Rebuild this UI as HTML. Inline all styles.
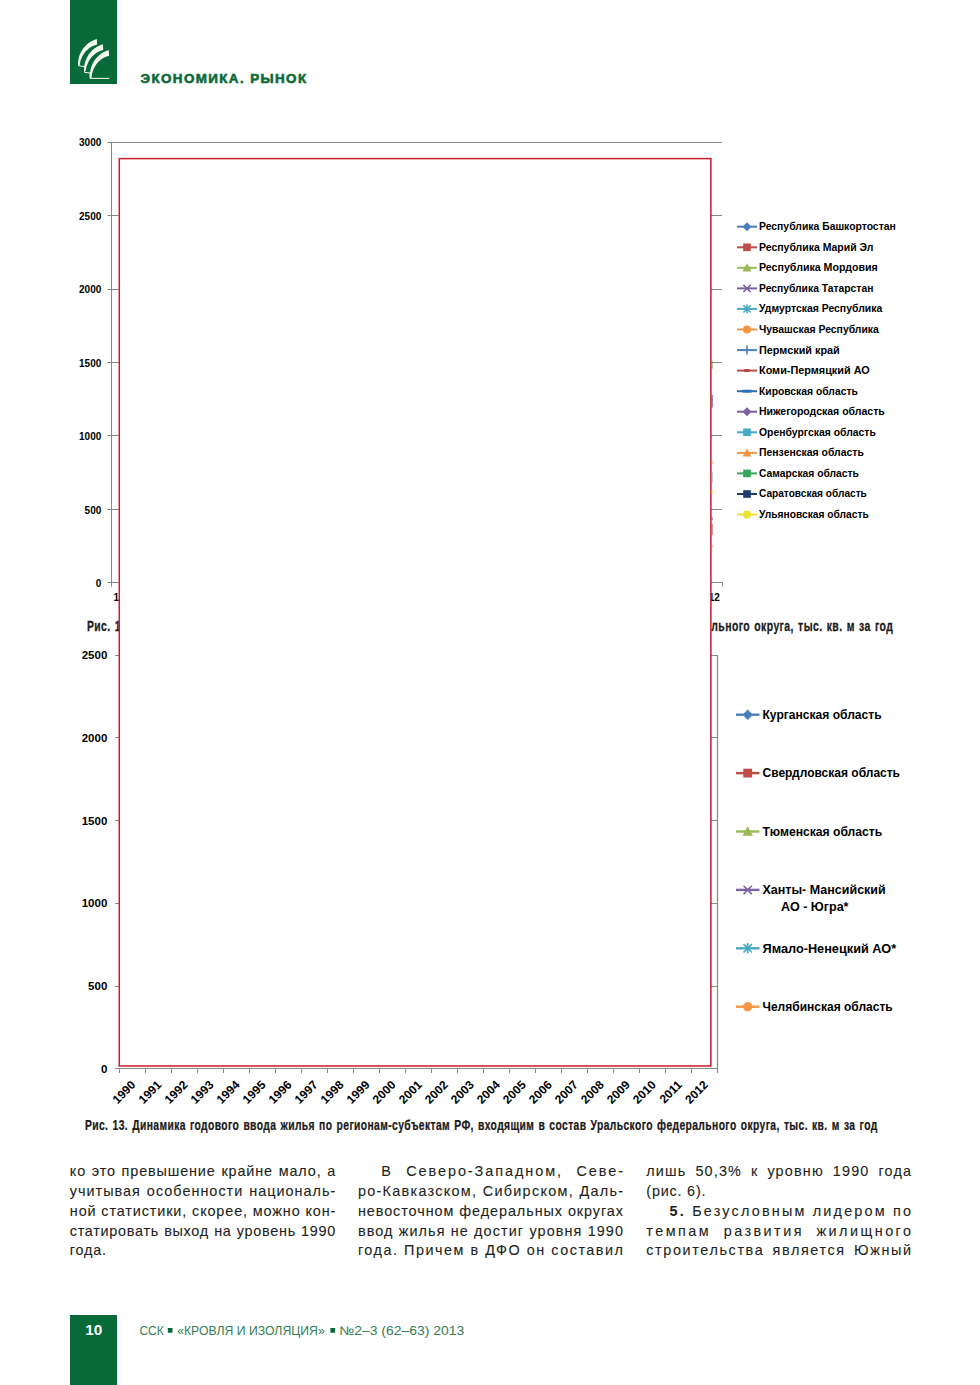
<!DOCTYPE html>
<html><head><meta charset="utf-8"><style>
html,body{margin:0;padding:0;background:#fff}
body{width:980px;height:1385px;position:relative;overflow:hidden}
svg{position:absolute;left:0;top:0}
.bl{position:absolute;font-family:"Liberation Sans",sans-serif;font-size:14.4px;line-height:16px;height:16px;color:#231f20;white-space:nowrap;-webkit-text-stroke:0.1px #231f20}
</style></head><body>
<svg width="980" height="1385" viewBox="0 0 980 1385">
<rect x="70" y="0" width="47" height="84" fill="#086a39"/>
<path transform="translate(0 0)" d="M96.8 38.9 C88 41.8 80.5 48 78.3 60 L78.2 65.6 L79.5 65.6 L79.7 64.5 C81.5 53.5 89 46.5 97.1 44.6 Z" fill="#f4fbee"/>
<path transform="translate(6.1 5.3)" d="M96.8 38.9 C88 41.8 80.5 48 78.3 60 L78.2 65.6 L79.5 65.6 L79.7 64.5 C81.5 53.5 89 46.5 97.1 44.6 Z" fill="#f4fbee"/>
<path transform="translate(12 11.2)" d="M96.8 38.9 C88 41.8 80.5 48 78.3 60 L78.2 65.6 L79.5 65.6 L79.7 64.5 C81.5 53.5 89 46.5 97.1 44.6 Z" fill="#f4fbee"/>
<rect x="90.3" y="72" width="1.2" height="6" fill="#f4fbee"/>
<path d="M78.8 62 L78.8 65.8 L84.6 66.6 L84.6 72.4 L90 73 L90 78.4 L109.2 78.4" fill="none" stroke="#f4fbee" stroke-width="1"/>
<text transform="translate(140.5 82.7) scale(1.0 1)" letter-spacing="1.4" font-family="Liberation Sans" font-weight="bold" font-size="13.4" fill="#0b6a38" stroke="#0b6a38" stroke-width="0.6">ЭКОНОМИКА. РЫНОК</text>
<line x1="107.5" y1="142.5" x2="722" y2="142.5" stroke="#868686" stroke-width="1"/>
<text x="101.3" y="146.1" text-anchor="end" font-family="Liberation Sans" font-weight="bold" font-size="10" fill="#000">3000</text>
<line x1="107.5" y1="215.5" x2="722" y2="215.5" stroke="#868686" stroke-width="1"/>
<text x="101.3" y="219.6" text-anchor="end" font-family="Liberation Sans" font-weight="bold" font-size="10" fill="#000">2500</text>
<line x1="107.5" y1="289.5" x2="722" y2="289.5" stroke="#868686" stroke-width="1"/>
<text x="101.3" y="293.0" text-anchor="end" font-family="Liberation Sans" font-weight="bold" font-size="10" fill="#000">2000</text>
<line x1="107.5" y1="362.5" x2="722" y2="362.5" stroke="#868686" stroke-width="1"/>
<text x="101.3" y="366.5" text-anchor="end" font-family="Liberation Sans" font-weight="bold" font-size="10" fill="#000">1500</text>
<line x1="107.5" y1="435.5" x2="722" y2="435.5" stroke="#868686" stroke-width="1"/>
<text x="101.3" y="440.0" text-anchor="end" font-family="Liberation Sans" font-weight="bold" font-size="10" fill="#000">1000</text>
<line x1="107.5" y1="509.5" x2="722" y2="509.5" stroke="#868686" stroke-width="1"/>
<text x="101.3" y="513.5" text-anchor="end" font-family="Liberation Sans" font-weight="bold" font-size="10" fill="#000">500</text>
<line x1="107.5" y1="582.5" x2="722" y2="582.5" stroke="#868686" stroke-width="1"/>
<text x="101.3" y="586.9" text-anchor="end" font-family="Liberation Sans" font-weight="bold" font-size="10" fill="#000">0</text>
<line x1="111.5" y1="142" x2="111.5" y2="586.5" stroke="#868686" stroke-width="1"/>
<line x1="111.5" y1="582" x2="111.5" y2="586.5" stroke="#868686" stroke-width="1"/>
<line x1="137.5" y1="582" x2="137.5" y2="586.5" stroke="#868686" stroke-width="1"/>
<line x1="164.5" y1="582" x2="164.5" y2="586.5" stroke="#868686" stroke-width="1"/>
<line x1="191.5" y1="582" x2="191.5" y2="586.5" stroke="#868686" stroke-width="1"/>
<line x1="217.5" y1="582" x2="217.5" y2="586.5" stroke="#868686" stroke-width="1"/>
<line x1="244.5" y1="582" x2="244.5" y2="586.5" stroke="#868686" stroke-width="1"/>
<line x1="270.5" y1="582" x2="270.5" y2="586.5" stroke="#868686" stroke-width="1"/>
<line x1="297.5" y1="582" x2="297.5" y2="586.5" stroke="#868686" stroke-width="1"/>
<line x1="323.5" y1="582" x2="323.5" y2="586.5" stroke="#868686" stroke-width="1"/>
<line x1="350.5" y1="582" x2="350.5" y2="586.5" stroke="#868686" stroke-width="1"/>
<line x1="376.5" y1="582" x2="376.5" y2="586.5" stroke="#868686" stroke-width="1"/>
<line x1="403.5" y1="582" x2="403.5" y2="586.5" stroke="#868686" stroke-width="1"/>
<line x1="429.5" y1="582" x2="429.5" y2="586.5" stroke="#868686" stroke-width="1"/>
<line x1="456.5" y1="582" x2="456.5" y2="586.5" stroke="#868686" stroke-width="1"/>
<line x1="483.5" y1="582" x2="483.5" y2="586.5" stroke="#868686" stroke-width="1"/>
<line x1="509.5" y1="582" x2="509.5" y2="586.5" stroke="#868686" stroke-width="1"/>
<line x1="536.5" y1="582" x2="536.5" y2="586.5" stroke="#868686" stroke-width="1"/>
<line x1="562.5" y1="582" x2="562.5" y2="586.5" stroke="#868686" stroke-width="1"/>
<line x1="589.5" y1="582" x2="589.5" y2="586.5" stroke="#868686" stroke-width="1"/>
<line x1="615.5" y1="582" x2="615.5" y2="586.5" stroke="#868686" stroke-width="1"/>
<line x1="642.5" y1="582" x2="642.5" y2="586.5" stroke="#868686" stroke-width="1"/>
<line x1="668.5" y1="582" x2="668.5" y2="586.5" stroke="#868686" stroke-width="1"/>
<line x1="695.5" y1="582" x2="695.5" y2="586.5" stroke="#868686" stroke-width="1"/>
<line x1="722.5" y1="582" x2="722.5" y2="586.5" stroke="#868686" stroke-width="1"/>
<text x="124.7" y="600.6" text-anchor="middle" font-family="Liberation Sans" font-weight="bold" font-size="10" fill="#000">1990</text>
<text x="151.2" y="600.6" text-anchor="middle" font-family="Liberation Sans" font-weight="bold" font-size="10" fill="#000">1991</text>
<text x="177.8" y="600.6" text-anchor="middle" font-family="Liberation Sans" font-weight="bold" font-size="10" fill="#000">1992</text>
<text x="204.3" y="600.6" text-anchor="middle" font-family="Liberation Sans" font-weight="bold" font-size="10" fill="#000">1993</text>
<text x="230.9" y="600.6" text-anchor="middle" font-family="Liberation Sans" font-weight="bold" font-size="10" fill="#000">1994</text>
<text x="257.4" y="600.6" text-anchor="middle" font-family="Liberation Sans" font-weight="bold" font-size="10" fill="#000">1995</text>
<text x="284.0" y="600.6" text-anchor="middle" font-family="Liberation Sans" font-weight="bold" font-size="10" fill="#000">1996</text>
<text x="310.5" y="600.6" text-anchor="middle" font-family="Liberation Sans" font-weight="bold" font-size="10" fill="#000">1997</text>
<text x="337.1" y="600.6" text-anchor="middle" font-family="Liberation Sans" font-weight="bold" font-size="10" fill="#000">1998</text>
<text x="363.6" y="600.6" text-anchor="middle" font-family="Liberation Sans" font-weight="bold" font-size="10" fill="#000">1999</text>
<text x="390.2" y="600.6" text-anchor="middle" font-family="Liberation Sans" font-weight="bold" font-size="10" fill="#000">2000</text>
<text x="416.7" y="600.6" text-anchor="middle" font-family="Liberation Sans" font-weight="bold" font-size="10" fill="#000">2001</text>
<text x="443.2" y="600.6" text-anchor="middle" font-family="Liberation Sans" font-weight="bold" font-size="10" fill="#000">2002</text>
<text x="469.8" y="600.6" text-anchor="middle" font-family="Liberation Sans" font-weight="bold" font-size="10" fill="#000">2003</text>
<text x="496.3" y="600.6" text-anchor="middle" font-family="Liberation Sans" font-weight="bold" font-size="10" fill="#000">2004</text>
<text x="522.9" y="600.6" text-anchor="middle" font-family="Liberation Sans" font-weight="bold" font-size="10" fill="#000">2005</text>
<text x="549.4" y="600.6" text-anchor="middle" font-family="Liberation Sans" font-weight="bold" font-size="10" fill="#000">2006</text>
<text x="576.0" y="600.6" text-anchor="middle" font-family="Liberation Sans" font-weight="bold" font-size="10" fill="#000">2007</text>
<text x="602.5" y="600.6" text-anchor="middle" font-family="Liberation Sans" font-weight="bold" font-size="10" fill="#000">2008</text>
<text x="629.1" y="600.6" text-anchor="middle" font-family="Liberation Sans" font-weight="bold" font-size="10" fill="#000">2009</text>
<text x="655.6" y="600.6" text-anchor="middle" font-family="Liberation Sans" font-weight="bold" font-size="10" fill="#000">2010</text>
<text x="682.2" y="600.6" text-anchor="middle" font-family="Liberation Sans" font-weight="bold" font-size="10" fill="#000">2011</text>
<text x="708.7" y="600.6" text-anchor="middle" font-family="Liberation Sans" font-weight="bold" font-size="10" fill="#000">2012</text>
<line x1="737" y1="226.7" x2="757" y2="226.7" stroke="#4a7ebb" stroke-width="2"/>
<path d="M747 222.22 L751.48 226.7 L747 231.17999999999998 L742.52 226.7 Z" fill="#4a7ebb"/>
<text x="759" y="230.1" textLength="136.8" lengthAdjust="spacingAndGlyphs" font-family="Liberation Sans" font-weight="bold" font-size="10.3" fill="#000">Республика Башкортостан</text>
<line x1="737" y1="247.3" x2="757" y2="247.3" stroke="#be4b48" stroke-width="2"/>
<rect x="743.192" y="243.49200000000002" width="7.6160000000000005" height="7.6160000000000005" fill="#be4b48"/>
<text x="759" y="250.7" textLength="114.39999999999999" lengthAdjust="spacingAndGlyphs" font-family="Liberation Sans" font-weight="bold" font-size="10.3" fill="#000">Республика Марий Эл</text>
<line x1="737" y1="267.8" x2="757" y2="267.8" stroke="#98b954" stroke-width="2"/>
<path d="M747 263.32 L751.48 271.384 L742.52 271.384 Z" fill="#98b954"/>
<text x="759" y="271.2" textLength="118.7" lengthAdjust="spacingAndGlyphs" font-family="Liberation Sans" font-weight="bold" font-size="10.3" fill="#000">Республика Мордовия</text>
<line x1="737" y1="288.4" x2="757" y2="288.4" stroke="#7d60a0" stroke-width="2"/>
<path d="M743.416 284.816 L750.584 291.984 M750.584 284.816 L743.416 291.984" stroke="#7d60a0" stroke-width="1.6" fill="none"/>
<text x="759" y="291.8" textLength="114.39999999999999" lengthAdjust="spacingAndGlyphs" font-family="Liberation Sans" font-weight="bold" font-size="10.3" fill="#000">Республика Татарстан</text>
<line x1="737" y1="308.9" x2="757" y2="308.9" stroke="#46aac5" stroke-width="2"/>
<path d="M743.416 305.316 L750.584 312.484 M750.584 305.316 L743.416 312.484 M747 304.41999999999996 L747 313.38" stroke="#46aac5" stroke-width="1.6" fill="none"/>
<text x="759" y="312.3" textLength="123.2" lengthAdjust="spacingAndGlyphs" font-family="Liberation Sans" font-weight="bold" font-size="10.3" fill="#000">Удмуртская Республика</text>
<line x1="737" y1="329.5" x2="757" y2="329.5" stroke="#f69545" stroke-width="2"/>
<circle cx="747" cy="329.5" r="4.032000000000001" fill="#f69545"/>
<text x="759" y="332.9" textLength="119.8" lengthAdjust="spacingAndGlyphs" font-family="Liberation Sans" font-weight="bold" font-size="10.3" fill="#000">Чувашская Республика</text>
<line x1="737" y1="350.1" x2="757" y2="350.1" stroke="#4a7ebb" stroke-width="2"/>
<path d="M747 345.62 L747 354.58000000000004" stroke="#4a7ebb" stroke-width="1.6" fill="none"/>
<text x="759" y="353.5" textLength="80.8" lengthAdjust="spacingAndGlyphs" font-family="Liberation Sans" font-weight="bold" font-size="10.3" fill="#000">Пермский край</text>
<line x1="737" y1="370.6" x2="757" y2="370.6" stroke="#be4b48" stroke-width="2"/>
<rect x="744.4" y="369.1" width="5.2" height="3" fill="#b04545"/>
<text x="759" y="374.0" textLength="110.8" lengthAdjust="spacingAndGlyphs" font-family="Liberation Sans" font-weight="bold" font-size="10.3" fill="#000">Коми-Пермяцкий АО</text>
<line x1="737" y1="391.2" x2="757" y2="391.2" stroke="#2c6fb5" stroke-width="2"/>
<rect x="742.52" y="389.7" width="8.96" height="3" fill="#2c6fb5"/>
<text x="759" y="394.6" textLength="98.8" lengthAdjust="spacingAndGlyphs" font-family="Liberation Sans" font-weight="bold" font-size="10.3" fill="#000">Кировская область</text>
<line x1="737" y1="411.7" x2="757" y2="411.7" stroke="#7d60a0" stroke-width="2"/>
<path d="M747 407.21999999999997 L751.48 411.7 L747 416.18 L742.52 411.7 Z" fill="#7d60a0"/>
<text x="759" y="415.1" textLength="125.8" lengthAdjust="spacingAndGlyphs" font-family="Liberation Sans" font-weight="bold" font-size="10.3" fill="#000">Нижегородская область</text>
<line x1="737" y1="432.3" x2="757" y2="432.3" stroke="#46aac5" stroke-width="2"/>
<rect x="743.192" y="428.492" width="7.6160000000000005" height="7.6160000000000005" fill="#46aac5"/>
<text x="759" y="435.7" textLength="116.8" lengthAdjust="spacingAndGlyphs" font-family="Liberation Sans" font-weight="bold" font-size="10.3" fill="#000">Оренбургская область</text>
<line x1="737" y1="452.9" x2="757" y2="452.9" stroke="#f69545" stroke-width="2"/>
<path d="M747 448.41999999999996 L751.48 456.484 L742.52 456.484 Z" fill="#f69545"/>
<text x="759" y="456.3" textLength="104.8" lengthAdjust="spacingAndGlyphs" font-family="Liberation Sans" font-weight="bold" font-size="10.3" fill="#000">Пензенская область</text>
<line x1="737" y1="473.4" x2="757" y2="473.4" stroke="#35a65c" stroke-width="2"/>
<rect x="743.192" y="469.592" width="7.6160000000000005" height="7.6160000000000005" fill="#35a65c"/>
<text x="759" y="476.8" textLength="99.8" lengthAdjust="spacingAndGlyphs" font-family="Liberation Sans" font-weight="bold" font-size="10.3" fill="#000">Самарская область</text>
<line x1="737" y1="494.0" x2="757" y2="494.0" stroke="#1f3a6e" stroke-width="2"/>
<rect x="743.192" y="490.192" width="7.6160000000000005" height="7.6160000000000005" fill="#1f3a6e"/>
<text x="759" y="497.4" textLength="107.8" lengthAdjust="spacingAndGlyphs" font-family="Liberation Sans" font-weight="bold" font-size="10.3" fill="#000">Саратовская область</text>
<line x1="737" y1="514.5" x2="757" y2="514.5" stroke="#ece430" stroke-width="2"/>
<circle cx="747" cy="514.5" r="4.032000000000001" fill="#ece430"/>
<text x="759" y="517.9" textLength="109.8" lengthAdjust="spacingAndGlyphs" font-family="Liberation Sans" font-weight="bold" font-size="10.3" fill="#000">Ульяновская область</text>
<line x1="115" y1="655.5" x2="718" y2="655.5" stroke="#8a8a8a" stroke-width="1"/>
<text x="107.3" y="659.1" text-anchor="end" font-family="Liberation Sans" font-weight="bold" font-size="11.5" fill="#000">2500</text>
<line x1="115" y1="737.5" x2="718" y2="737.5" stroke="#8a8a8a" stroke-width="1"/>
<text x="107.3" y="741.8" text-anchor="end" font-family="Liberation Sans" font-weight="bold" font-size="11.5" fill="#000">2000</text>
<line x1="115" y1="820.5" x2="718" y2="820.5" stroke="#8a8a8a" stroke-width="1"/>
<text x="107.3" y="824.5" text-anchor="end" font-family="Liberation Sans" font-weight="bold" font-size="11.5" fill="#000">1500</text>
<line x1="115" y1="903.5" x2="718" y2="903.5" stroke="#8a8a8a" stroke-width="1"/>
<text x="107.3" y="907.2" text-anchor="end" font-family="Liberation Sans" font-weight="bold" font-size="11.5" fill="#000">1000</text>
<line x1="115" y1="986.5" x2="718" y2="986.5" stroke="#8a8a8a" stroke-width="1"/>
<text x="107.3" y="989.9" text-anchor="end" font-family="Liberation Sans" font-weight="bold" font-size="11.5" fill="#000">500</text>
<line x1="115" y1="1068.5" x2="718" y2="1068.5" stroke="#8a8a8a" stroke-width="1"/>
<text x="107.3" y="1072.6" text-anchor="end" font-family="Liberation Sans" font-weight="bold" font-size="11.5" fill="#000">0</text>
<line x1="717.5" y1="655" x2="717.5" y2="1073" stroke="#8a8a8a" stroke-width="1.2"/>
<line x1="119.5" y1="1068" x2="119.5" y2="1073" stroke="#8a8a8a" stroke-width="1"/>
<line x1="145.5" y1="1068" x2="145.5" y2="1073" stroke="#8a8a8a" stroke-width="1"/>
<line x1="171.5" y1="1068" x2="171.5" y2="1073" stroke="#8a8a8a" stroke-width="1"/>
<line x1="197.5" y1="1068" x2="197.5" y2="1073" stroke="#8a8a8a" stroke-width="1"/>
<line x1="223.5" y1="1068" x2="223.5" y2="1073" stroke="#8a8a8a" stroke-width="1"/>
<line x1="249.5" y1="1068" x2="249.5" y2="1073" stroke="#8a8a8a" stroke-width="1"/>
<line x1="275.5" y1="1068" x2="275.5" y2="1073" stroke="#8a8a8a" stroke-width="1"/>
<line x1="301.5" y1="1068" x2="301.5" y2="1073" stroke="#8a8a8a" stroke-width="1"/>
<line x1="327.5" y1="1068" x2="327.5" y2="1073" stroke="#8a8a8a" stroke-width="1"/>
<line x1="353.5" y1="1068" x2="353.5" y2="1073" stroke="#8a8a8a" stroke-width="1"/>
<line x1="379.5" y1="1068" x2="379.5" y2="1073" stroke="#8a8a8a" stroke-width="1"/>
<line x1="405.5" y1="1068" x2="405.5" y2="1073" stroke="#8a8a8a" stroke-width="1"/>
<line x1="431.5" y1="1068" x2="431.5" y2="1073" stroke="#8a8a8a" stroke-width="1"/>
<line x1="457.5" y1="1068" x2="457.5" y2="1073" stroke="#8a8a8a" stroke-width="1"/>
<line x1="483.5" y1="1068" x2="483.5" y2="1073" stroke="#8a8a8a" stroke-width="1"/>
<line x1="509.5" y1="1068" x2="509.5" y2="1073" stroke="#8a8a8a" stroke-width="1"/>
<line x1="535.5" y1="1068" x2="535.5" y2="1073" stroke="#8a8a8a" stroke-width="1"/>
<line x1="561.5" y1="1068" x2="561.5" y2="1073" stroke="#8a8a8a" stroke-width="1"/>
<line x1="587.5" y1="1068" x2="587.5" y2="1073" stroke="#8a8a8a" stroke-width="1"/>
<line x1="613.5" y1="1068" x2="613.5" y2="1073" stroke="#8a8a8a" stroke-width="1"/>
<line x1="639.5" y1="1068" x2="639.5" y2="1073" stroke="#8a8a8a" stroke-width="1"/>
<line x1="665.5" y1="1068" x2="665.5" y2="1073" stroke="#8a8a8a" stroke-width="1"/>
<line x1="691.5" y1="1068" x2="691.5" y2="1073" stroke="#8a8a8a" stroke-width="1"/>
<line x1="717.5" y1="1068" x2="717.5" y2="1073" stroke="#8a8a8a" stroke-width="1"/>
<text transform="translate(136.3 1085.5) rotate(-45)" text-anchor="end" font-family="Liberation Sans" font-weight="bold" font-size="12" fill="#000">1990</text>
<text transform="translate(162.3 1085.5) rotate(-45)" text-anchor="end" font-family="Liberation Sans" font-weight="bold" font-size="12" fill="#000">1991</text>
<text transform="translate(188.4 1085.5) rotate(-45)" text-anchor="end" font-family="Liberation Sans" font-weight="bold" font-size="12" fill="#000">1992</text>
<text transform="translate(214.4 1085.5) rotate(-45)" text-anchor="end" font-family="Liberation Sans" font-weight="bold" font-size="12" fill="#000">1993</text>
<text transform="translate(240.4 1085.5) rotate(-45)" text-anchor="end" font-family="Liberation Sans" font-weight="bold" font-size="12" fill="#000">1994</text>
<text transform="translate(266.4 1085.5) rotate(-45)" text-anchor="end" font-family="Liberation Sans" font-weight="bold" font-size="12" fill="#000">1995</text>
<text transform="translate(292.4 1085.5) rotate(-45)" text-anchor="end" font-family="Liberation Sans" font-weight="bold" font-size="12" fill="#000">1996</text>
<text transform="translate(318.5 1085.5) rotate(-45)" text-anchor="end" font-family="Liberation Sans" font-weight="bold" font-size="12" fill="#000">1997</text>
<text transform="translate(344.5 1085.5) rotate(-45)" text-anchor="end" font-family="Liberation Sans" font-weight="bold" font-size="12" fill="#000">1998</text>
<text transform="translate(370.5 1085.5) rotate(-45)" text-anchor="end" font-family="Liberation Sans" font-weight="bold" font-size="12" fill="#000">1999</text>
<text transform="translate(396.5 1085.5) rotate(-45)" text-anchor="end" font-family="Liberation Sans" font-weight="bold" font-size="12" fill="#000">2000</text>
<text transform="translate(422.6 1085.5) rotate(-45)" text-anchor="end" font-family="Liberation Sans" font-weight="bold" font-size="12" fill="#000">2001</text>
<text transform="translate(448.6 1085.5) rotate(-45)" text-anchor="end" font-family="Liberation Sans" font-weight="bold" font-size="12" fill="#000">2002</text>
<text transform="translate(474.6 1085.5) rotate(-45)" text-anchor="end" font-family="Liberation Sans" font-weight="bold" font-size="12" fill="#000">2003</text>
<text transform="translate(500.6 1085.5) rotate(-45)" text-anchor="end" font-family="Liberation Sans" font-weight="bold" font-size="12" fill="#000">2004</text>
<text transform="translate(526.6 1085.5) rotate(-45)" text-anchor="end" font-family="Liberation Sans" font-weight="bold" font-size="12" fill="#000">2005</text>
<text transform="translate(552.7 1085.5) rotate(-45)" text-anchor="end" font-family="Liberation Sans" font-weight="bold" font-size="12" fill="#000">2006</text>
<text transform="translate(578.7 1085.5) rotate(-45)" text-anchor="end" font-family="Liberation Sans" font-weight="bold" font-size="12" fill="#000">2007</text>
<text transform="translate(604.7 1085.5) rotate(-45)" text-anchor="end" font-family="Liberation Sans" font-weight="bold" font-size="12" fill="#000">2008</text>
<text transform="translate(630.7 1085.5) rotate(-45)" text-anchor="end" font-family="Liberation Sans" font-weight="bold" font-size="12" fill="#000">2009</text>
<text transform="translate(656.7 1085.5) rotate(-45)" text-anchor="end" font-family="Liberation Sans" font-weight="bold" font-size="12" fill="#000">2010</text>
<text transform="translate(682.8 1085.5) rotate(-45)" text-anchor="end" font-family="Liberation Sans" font-weight="bold" font-size="12" fill="#000">2011</text>
<text transform="translate(708.8 1085.5) rotate(-45)" text-anchor="end" font-family="Liberation Sans" font-weight="bold" font-size="12" fill="#000">2012</text>
<line x1="736" y1="714.7" x2="759.5" y2="714.7" stroke="#4a7ebb" stroke-width="2.4"/>
<path d="M747.7 709.5 L752.9000000000001 714.7 L747.7 719.9000000000001 L742.5 714.7 Z" fill="#4a7ebb"/>
<text x="762.5" y="718.9" textLength="119.10000000000001" lengthAdjust="spacingAndGlyphs" font-family="Liberation Sans" font-weight="bold" font-size="11.9" fill="#000">Курганская область</text>
<line x1="736" y1="773.1" x2="759.5" y2="773.1" stroke="#be4b48" stroke-width="2.4"/>
<rect x="743.2800000000001" y="768.6800000000001" width="8.84" height="8.84" fill="#be4b48"/>
<text x="762.5" y="777.3" textLength="137.5" lengthAdjust="spacingAndGlyphs" font-family="Liberation Sans" font-weight="bold" font-size="11.9" fill="#000">Свердловская область</text>
<line x1="736" y1="831.5" x2="759.5" y2="831.5" stroke="#98b954" stroke-width="2.4"/>
<path d="M747.7 826.3 L752.9000000000001 835.66 L742.5 835.66 Z" fill="#98b954"/>
<text x="762.5" y="835.7" textLength="119.7" lengthAdjust="spacingAndGlyphs" font-family="Liberation Sans" font-weight="bold" font-size="11.9" fill="#000">Тюменская область</text>
<line x1="736" y1="889.9" x2="759.5" y2="889.9" stroke="#7d60a0" stroke-width="2.4"/>
<path d="M743.5400000000001 885.74 L751.86 894.06 M751.86 885.74 L743.5400000000001 894.06" stroke="#7d60a0" stroke-width="1.6" fill="none"/>
<text x="762.5" y="894.1" textLength="123.2" lengthAdjust="spacingAndGlyphs" font-family="Liberation Sans" font-weight="bold" font-size="11.9" fill="#000">Ханты- Мансийский</text>
<line x1="736" y1="948.3" x2="759.5" y2="948.3" stroke="#46aac5" stroke-width="2.4"/>
<path d="M743.5400000000001 944.14 L751.86 952.4599999999999 M751.86 944.14 L743.5400000000001 952.4599999999999 M747.7 943.0999999999999 L747.7 953.5" stroke="#46aac5" stroke-width="1.6" fill="none"/>
<text x="762.5" y="952.5" textLength="133.70000000000002" lengthAdjust="spacingAndGlyphs" font-family="Liberation Sans" font-weight="bold" font-size="11.9" fill="#000">Ямало-Ненецкий АО*</text>
<line x1="736" y1="1006.7" x2="759.5" y2="1006.7" stroke="#f69545" stroke-width="2.4"/>
<circle cx="747.7" cy="1006.7" r="4.680000000000001" fill="#f69545"/>
<text x="762.5" y="1010.9" textLength="130.20000000000002" lengthAdjust="spacingAndGlyphs" font-family="Liberation Sans" font-weight="bold" font-size="11.9" fill="#000">Челябинская область</text>
<text x="781" y="910.5" textLength="67.5" lengthAdjust="spacingAndGlyphs" font-family="Liberation Sans" font-weight="bold" font-size="11.9" fill="#000">АО - Югра*</text>
<text transform="translate(87 630.7) scale(0.75 1)" letter-spacing="0.55" word-spacing="1.2" font-family="Liberation Sans" font-weight="bold" font-size="13.8" fill="#1a1a1a" stroke="#1a1a1a" stroke-width="0.25">Рис. 12. Динамика годового ввода</text>
<text transform="translate(893.3 630.7) scale(0.757 1)" text-anchor="end" letter-spacing="0.55" word-spacing="1.2" font-family="Liberation Sans" font-weight="bold" font-size="13.8" fill="#1a1a1a" stroke="#1a1a1a" stroke-width="0.25">льного округа, тыс. кв. м за год</text>
<text transform="translate(85 1129.7) scale(0.7455 1)" letter-spacing="0.55" word-spacing="1.2" font-family="Liberation Sans" font-weight="bold" font-size="13.8" fill="#1a1a1a" stroke="#1a1a1a" stroke-width="0.25">Рис. 13. Динамика годового ввода жилья по регионам-субъектам РФ, входящим в состав Уральского федерального округа, тыс. кв. м за год</text>
<rect x="119.3" y="158.6" width="591.6" height="907.4" fill="#fff" stroke="#c81c28" stroke-width="1.5"/>
<rect x="711.7" y="360.6" width="1.1" height="8.0" fill="#4a9a5a" opacity="0.65"/>
<rect x="711.7" y="394.8" width="1.1" height="12.7" fill="#1f2a55" opacity="0.65"/>
<rect x="711.7" y="461" width="1.1" height="3.0" fill="#e8a070" opacity="0.65"/>
<rect x="711.7" y="472" width="1.1" height="11.0" fill="#7aaac0" opacity="0.65"/>
<rect x="711.7" y="490" width="1.1" height="4.0" fill="#f0e060" opacity="0.65"/>
<rect x="711.7" y="517.5" width="1.1" height="2.5" fill="#303060" opacity="0.65"/>
<rect x="711.7" y="524" width="1.1" height="11.0" fill="#b03040" opacity="0.65"/>
<rect x="711.7" y="545" width="1.1" height="2.0" fill="#c07080" opacity="0.65"/>
<rect x="70" y="1315" width="47" height="70" fill="#086a39"/>
<text x="85.2" y="1334.7" textLength="17" lengthAdjust="spacingAndGlyphs" font-family="Liberation Sans" font-weight="bold" font-size="15.4" fill="#fff">10</text>
<text x="139.4" y="1334.8" textLength="24.5" lengthAdjust="spacingAndGlyphs" font-family="Liberation Sans" font-size="12.4" fill="#347c55">ССК</text>
<rect x="167.8" y="1328" width="4.7" height="4.7" fill="#086a39"/>
<text x="177.2" y="1334.8" textLength="147.5" lengthAdjust="spacingAndGlyphs" font-family="Liberation Sans" font-size="12.4" fill="#347c55">«КРОВЛЯ И ИЗОЛЯЦИЯ»</text>
<rect x="330.4" y="1328" width="4.7" height="4.7" fill="#086a39"/>
<text x="339.2" y="1334.8" textLength="125" lengthAdjust="spacingAndGlyphs" font-family="Liberation Sans" font-size="12.4" fill="#347c55">№2–3 (62–63) 2013</text>
</svg>
<div class="bl" style="left:69.8px;top:1163.3px;letter-spacing:0.875px;word-spacing:0.875px">ко это превышение крайне мало, а</div>
<div class="bl" style="left:69.8px;top:1183.0px;letter-spacing:1.021px;word-spacing:0.942px">учитывая особенности националь-</div>
<div class="bl" style="left:69.8px;top:1202.8px;letter-spacing:0.886px;word-spacing:0.000px">ной статистики, скорее, можно кон-</div>
<div class="bl" style="left:69.8px;top:1222.5px;letter-spacing:0.719px;word-spacing:0.562px">статировать выход на уровень 1990</div>
<div class="bl" style="left:69.8px;top:1242.3px;letter-spacing:0.800px;word-spacing:0.000px">года.</div>
<div class="bl" style="left:381.2px;top:1163.3px;letter-spacing:1.966px;word-spacing:7.453px">В Северо-Западном, Севе-</div>
<div class="bl" style="left:357.9px;top:1183.0px;letter-spacing:1.295px;word-spacing:0.149px">ро-Кавказском, Сибирском, Даль-</div>
<div class="bl" style="left:357.9px;top:1202.8px;letter-spacing:0.941px;word-spacing:0.000px">невосточном федеральных округах</div>
<div class="bl" style="left:357.9px;top:1222.5px;letter-spacing:1.110px;word-spacing:0.053px">ввод жилья не достиг уровня 1990</div>
<div class="bl" style="left:357.9px;top:1242.3px;letter-spacing:1.520px;word-spacing:0.000px">года. Причем в ДФО он составил</div>
<div class="bl" style="left:646.3px;top:1163.3px;letter-spacing:1.173px;word-spacing:3.766px">лишь 50,3% к уровню 1990 года</div>
<div class="bl" style="left:646.3px;top:1183.0px;letter-spacing:0.800px;word-spacing:0.000px">(рис. 6).</div>
<div class="bl" style="left:669.6px;top:1202.8px;letter-spacing:2.195px;word-spacing:0.000px"><b>5.</b> Безусловным лидером по</div>
<div class="bl" style="left:646.3px;top:1222.5px;letter-spacing:2.456px;word-spacing:6.189px">темпам развития жилищного</div>
<div class="bl" style="left:646.3px;top:1242.3px;letter-spacing:1.621px;word-spacing:2.628px">строительства является Южный</div>
</body></html>
